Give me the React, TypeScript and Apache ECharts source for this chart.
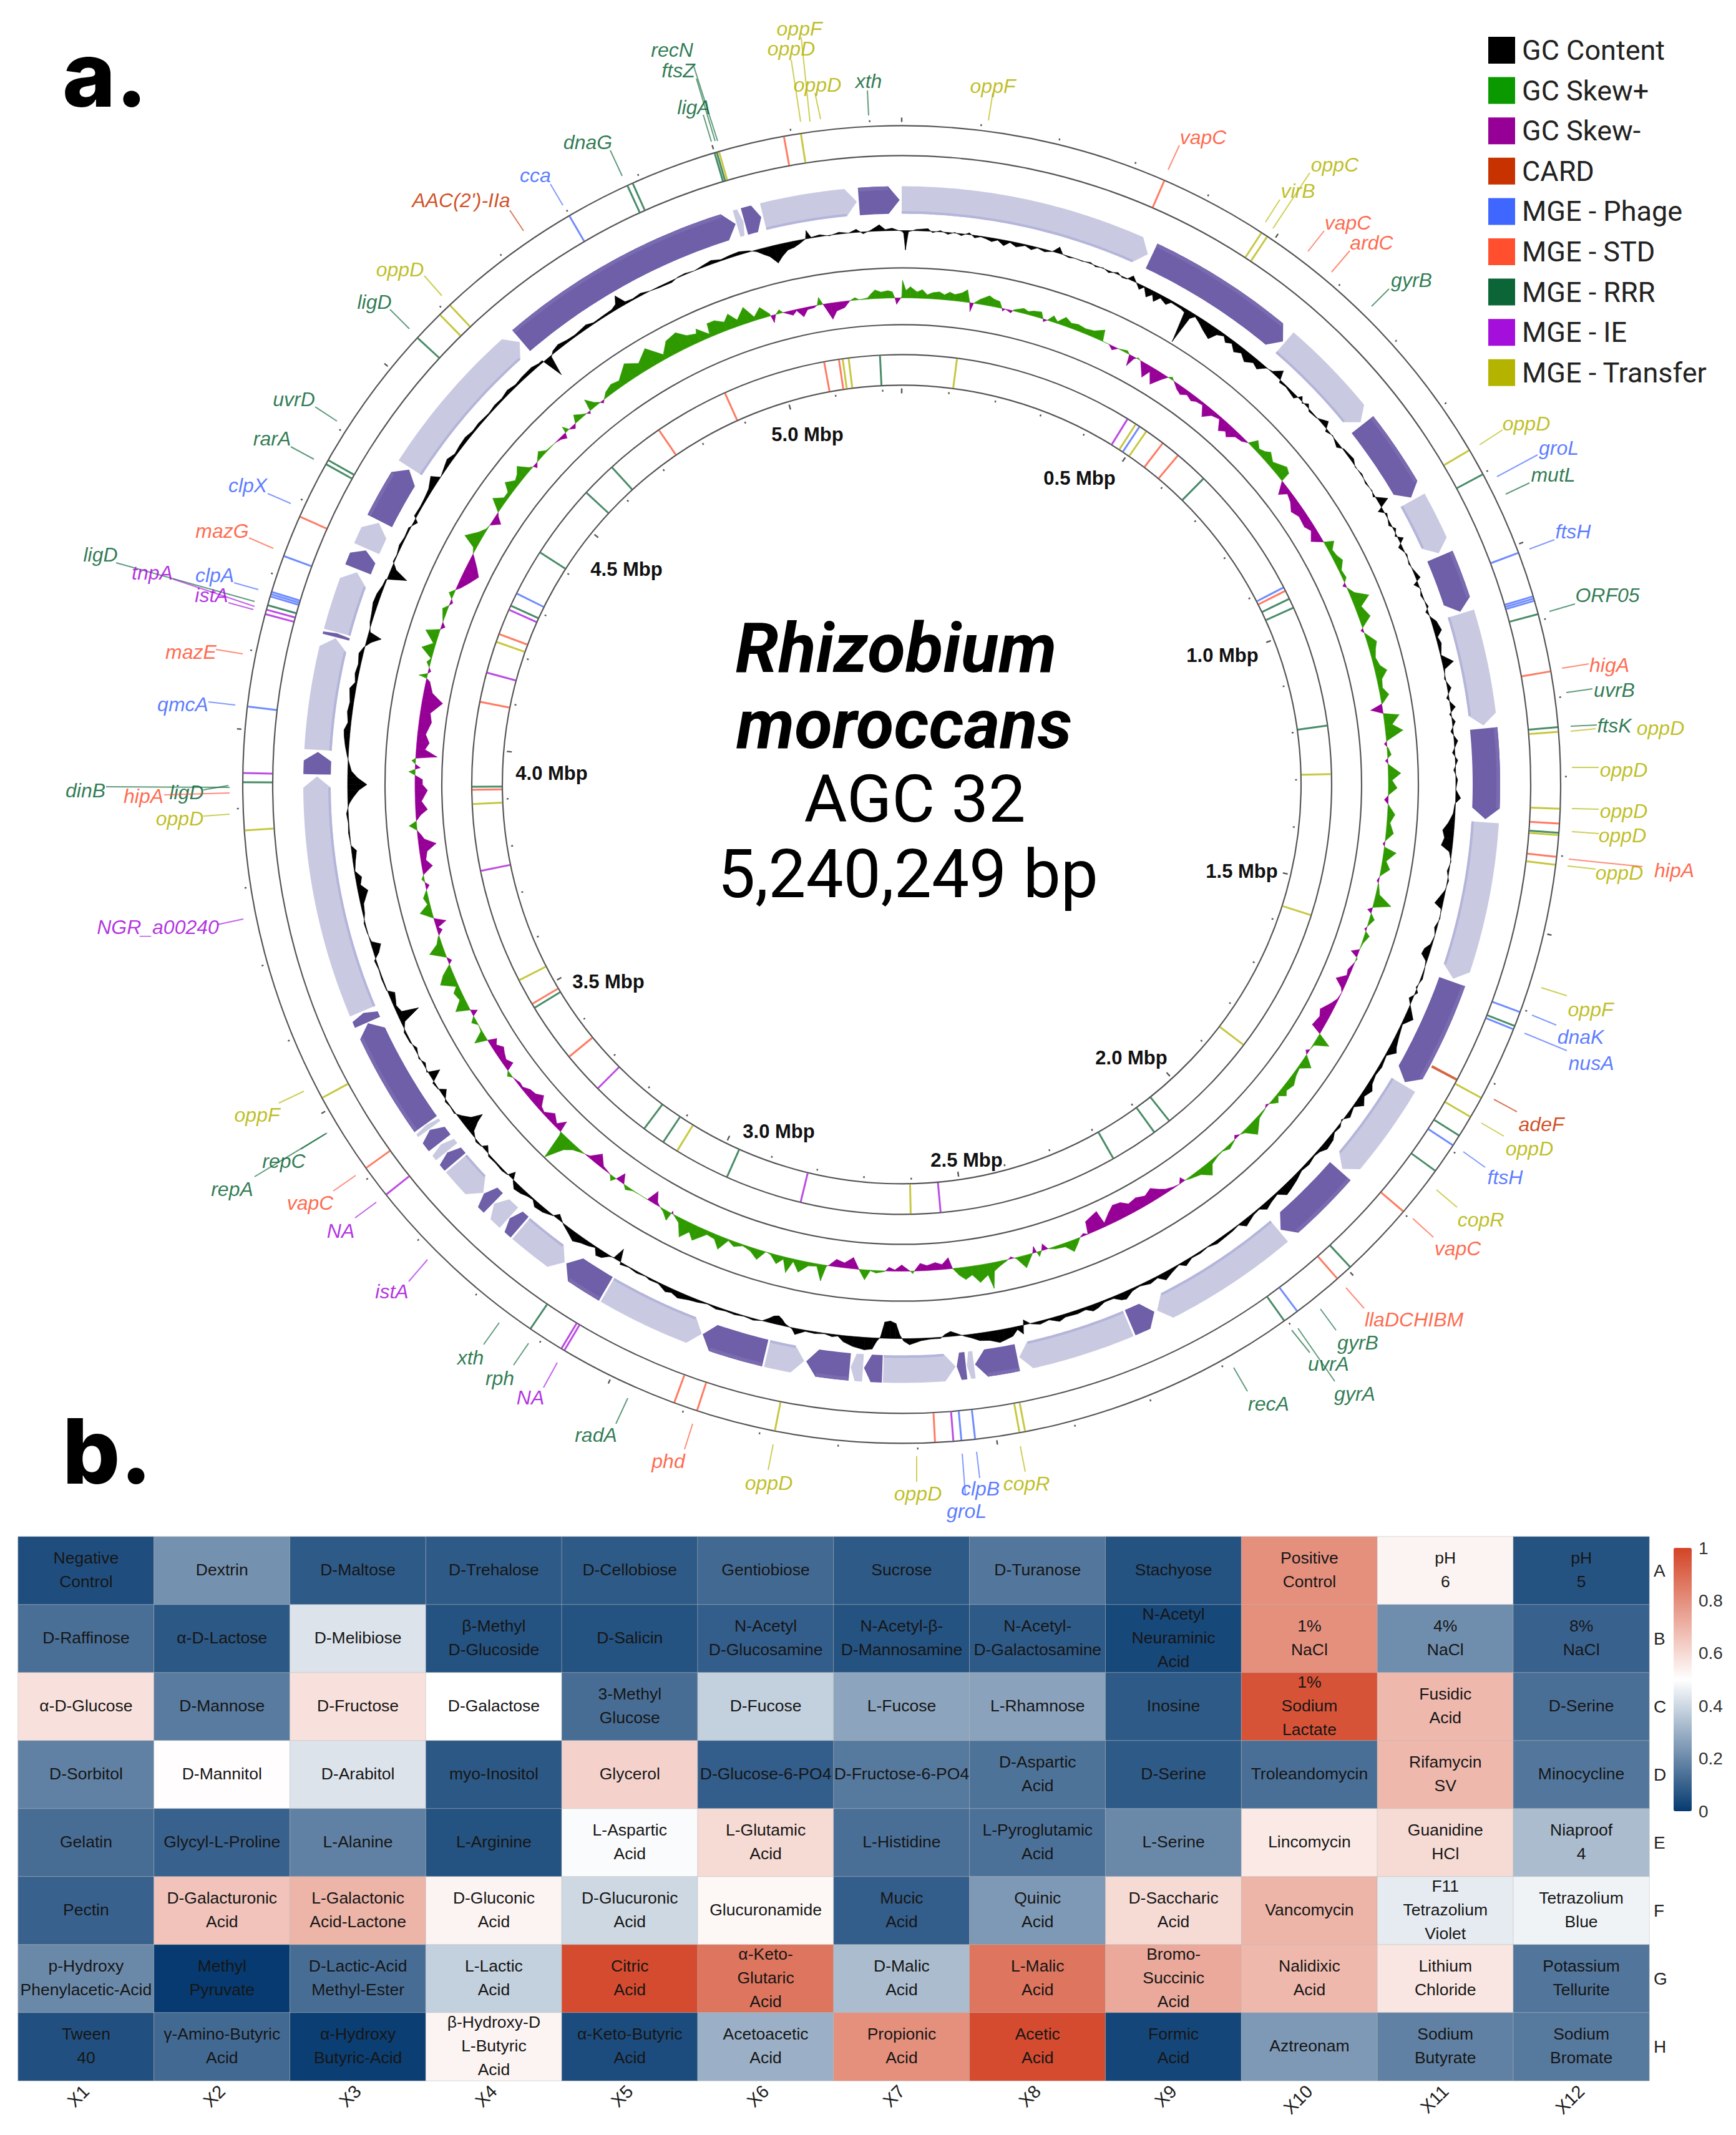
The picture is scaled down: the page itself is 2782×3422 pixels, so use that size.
import React, { useEffect, useRef } from "react";
import * as echarts from "echarts";

const GENOME_BP = 5240249;

/* ---------- heat map ---------- */
const plateColumns = ["X1","X2","X3","X4","X5","X6","X7","X8","X9","X10","X11","X12"];
const plateRows = ["A","B","C","D","E","F","G","H"];
const wellNames = [
  ["Negative\nControl","Dextrin","D-Maltose","D-Trehalose","D-Cellobiose","Gentiobiose","Sucrose","D-Turanose","Stachyose","Positive\nControl","pH\n6","pH\n5"],
  ["D-Raffinose","α-D-Lactose","D-Melibiose","β-Methyl\nD-Glucoside","D-Salicin","N-Acetyl\nD-Glucosamine","N-Acetyl-β-\nD-Mannosamine","N-Acetyl-\nD-Galactosamine","N-Acetyl\nNeuraminic\nAcid","1%\nNaCl","4%\nNaCl","8%\nNaCl"],
  ["α-D-Glucose","D-Mannose","D-Fructose","D-Galactose","3-Methyl\nGlucose","D-Fucose","L-Fucose","L-Rhamnose","Inosine","1%\nSodium\nLactate","Fusidic\nAcid","D-Serine"],
  ["D-Sorbitol","D-Mannitol","D-Arabitol","myo-Inositol","Glycerol","D-Glucose-6-PO4","D-Fructose-6-PO4","D-Aspartic\nAcid","D-Serine","Troleandomycin","Rifamycin\nSV","Minocycline"],
  ["Gelatin","Glycyl-L-Proline","L-Alanine","L-Arginine","L-Aspartic\nAcid","L-Glutamic\nAcid","L-Histidine","L-Pyroglutamic\nAcid","L-Serine","Lincomycin","Guanidine\nHCl","Niaproof\n4"],
  ["Pectin","D-Galacturonic\nAcid","L-Galactonic\nAcid-Lactone","D-Gluconic\nAcid","D-Glucuronic\nAcid","Glucuronamide","Mucic\nAcid","Quinic\nAcid","D-Saccharic\nAcid","Vancomycin","F11\nTetrazolium\nViolet","Tetrazolium\nBlue"],
  ["p-Hydroxy\nPhenylacetic-Acid","Methyl\nPyruvate","D-Lactic-Acid\nMethyl-Ester","L-Lactic\nAcid","Citric\nAcid","α-Keto-\nGlutaric\nAcid","D-Malic\nAcid","L-Malic\nAcid","Bromo-\nSuccinic\nAcid","Nalidixic\nAcid","Lithium\nChloride","Potassium\nTellurite"],
  ["Tween\n40","γ-Amino-Butyric\nAcid","α-Hydroxy\nButyric-Acid","β-Hydroxy-D\nL-Butyric\nAcid","α-Keto-Butyric\nAcid","Acetoacetic\nAcid","Propionic\nAcid","Acetic\nAcid","Formic\nAcid","Aztreonam","Sodium\nButyrate","Sodium\nBromate"],
];
const wellValues = [
  [0.05,0.22,0.08,0.08,0.08,0.12,0.08,0.155,0.06,0.8,0.53,0.06],
  [0.135,0.075,0.43,0.06,0.06,0.09,0.06,0.08,0.035,0.8,0.21,0.1],
  [0.58,0.165,0.58,0.5,0.13,0.38,0.27,0.265,0.08,0.96,0.69,0.135],
  [0.18,0.505,0.43,0.075,0.62,0.09,0.16,0.145,0.08,0.135,0.69,0.155],
  [0.13,0.1,0.18,0.06,0.49,0.6,0.135,0.14,0.2,0.56,0.6,0.33],
  [0.1,0.66,0.7,0.53,0.4,0.52,0.09,0.24,0.6,0.7,0.45,0.47],
  [0.2,0,0.13,0.38,0.98,0.87,0.33,0.87,0.73,0.69,0.57,0.15],
  [0.055,0.12,0.01,0.53,0.045,0.3,0.8,0.98,0.03,0.24,0.18,0.16],
];

/* ---------- genome map (positions in degrees clockwise from the origin) ---------- */
const kinds = [
  { name: "CARD", color: "#c83200" },
  { name: "MGE - Phage", color: "#3f66ff" },
  { name: "MGE - STD", color: "#ff4f2f" },
  { name: "MGE - RRR", color: "#0b6536" },
  { name: "MGE - IE", color: "#a50fdc" },
  { name: "MGE - Transfer", color: "#b4b400" },
];
const legendSwatches = [
  { name: "GC Content", color: "#000000" },
  { name: "GC Skew+", color: "#0a9a00" },
  { name: "GC Skew-", color: "#960096" },
  ...kinds,
];
const CARD = 0, PHG = 1, STD = 2, RRR = 3, IE = 4, TRF = 5;

const ringRadii = [1056, 1008, 828, 737, 689, 640];
const tickMbp = Array.from({ length: 53 }, (_, i) => i / 10);

const outerFeatures = [
  [23.5,STD],[33.1,TRF],[33.7,TRF],[59.5,TRF],[61.9,RRR],[69.4,PHG],[73.4,PHG],[73.6,PHG],[73.8,PHG],[75,RRR],[80.1,STD],
  [85,RRR],[85.4,TRF],[92.1,TRF],[93.4,STD],[94.2,RRR],[94.4,TRF],[96.3,STD],[97,TRF],[110.2,PHG],[111.5,RRR],
  [111.8,PHG],[118.4,TRF],[120.3,TRF],[122.2,RRR],[123.2,PHG],[125.9,RRR],[130.4,STD],[137.1,RRR],[138.6,STD],
  [143.1,PHG],[144.5,RRR],[169.2,TRF],[169.7,TRF],[173.6,PHG],[174.8,PHG],[175.5,IE],[177.1,STD],[191.1,TRF],
  [198.1,STD],[200.2,STD],[210.8,IE],[211.1,IE],[214.3,RRR],[231.5,IE],[234.4,STD],[241.6,TRF],[266,TRF],
  [270.2,RRR],[271,IE],[276.8,PHG],[285,IE],[285.4,IE],[285.8,RRR],[286.6,PHG],[286.8,PHG],[287,PHG],[290.3,PHG],[294,STD],
  [299.1,RRR],[299.5,RRR],[312.7,RRR],[315.5,TRF],[316.7,TRF],[329.7,PHG],[335.4,RRR],[335.9,RRR],[343.5,RRR],
  [343.7,RRR],[343.9,TRF],[349.7,STD],[351.2,TRF],
];
const cardFeatures = [[118,CARD]];
const innerFeatures = [
  [349.6,STD],[351.6,STD],[352.1,TRF],[352.9,TRF],[357.1,RRR],[7.4,TRF],[31.7,IE],[33,TRF],[33.6,PHG],[34.7,TRF],
  [37.4,STD],[40,STD],[44.6,RRR],[62.7,PHG],[63.2,STD],[64.4,RRR],[65.7,RRR],[82.1,RRR],[88.6,TRF],[107.7,TRF],
  [127.3,TRF],[141.5,RRR],[144,RRR],[150.5,RRR],[174.8,IE],[178.8,TRF],[193.6,IE],[204,RRR],[211.5,TRF],[213.7,RRR],
  [216.8,RRR],[225,IE],[230.7,STD],[238.7,RRR],[239.3,STD],[242.9,TRF],[258.4,IE],[267.4,TRF],[269.3,STD],[269.7,RRR],
  [281.1,STD],[285.1,IE],[289.4,TRF],[290.5,STD],[294,IE],[294.6,RRR],[296.4,PHG],[302.7,RRR],[312.8,RRR],[317.6,RRR],
  [325.6,STD],[335.7,STD],
];

/* start, end, shade (1 dark, 0 light), direction */
const genes = [
  [0,24.9,0,1],[25.3,40.7,1,1],[40.9,51.7,0,1],[52,60.6,1,1],[60.9,66.7,0,1],[67,72.8,1,1],[73,84.2,0,1],[84.5,93.4,1,1],
  [93.7,109.4,0,1],[109.7,120.6,1,1],[120.9,131.1,0,1],[131.4,139.6,1,1],[139.8,154.1,0,1],[154.4,157,1,-1],[157.2,168.4,0,1],
  [168.6,172.8,1,1],[172.9,173.6,0,1],[173.7,174.6,1,1],[174.7,181.8,0,-1],[181.9,183.7,1,1],[183.8,185,0,1],[185.1,189.4,1,1],
  [189.6,193.3,0,-1],[193.5,199.9,1,1],[200,210.2,0,-1],[210.4,215,1,1],[215.2,220.6,0,-1],[220.8,222.1,1,1],[222.2,224.2,0,1],
  [224.3,225.6,1,1],[225.7,229.6,0,-1],[229.8,231,1,1],[231.1,232,0,1],[232.2,233.8,1,1],[233.9,234.4,0,1],[234.5,245.9,1,1],
  [246,247,1,1],[247.2,270.8,0,1],[271,273.2,1,1],[273.4,284.5,0,1],[284.6,285,1,1],[285.1,291.3,0,1],[291.6,293.6,1,1],
  [293.8,296.6,0,1],[296.8,302.6,1,1],[302.8,319.2,0,1],[319.4,343.5,1,1],[343.6,344.3,0,1],[344.4,346.1,1,1],[346.3,355.6,0,1],
  [355.8,359.8,1,1],
];

/* degree, offset from the track's baseline (positive = outwards) */
const gcContent = [
  [0,-1],[0.2,-4],[0.4,-31],[0.7,-2],[1.5,2],[2.7,4],[3.2,-2],[4,2],[4.8,-3],[5.5,1],[6.2,-3],[7,3],[7.6,-4],[8.2,-1],[8.8,-3],[9.4,-6],[10,-2],[10.7,-9],[11.3,-2],[12,-7],[12.9,-2],[13.6,-6],[14.2,-1],[15,-4],[15.8,0],[16.4,10],[16.9,0],[17.6,-2],[18.2,0],[19,-1],[19.9,2],[20.5,-2],[21.3,1],[22,-3],[22.9,3],[23.5,-2],[24,-1],[24.5,8],[25.2,-2],[25.6,-8],[26,-1],[26.6,-14],[27.1,-6],[27.5,-15],[28,-5],[28.8,-10],[29.2,-3],[30.4,-4],[30.9,-6],[31.4,-56],[31.7,-10],[32.1,-3],[32.8,-8],[33.5,-14],[34.5,-21],[35,-8],[35.7,-3],[36.2,-10],[36.8,-5],[37.5,-14],[38.2,-8],[39,-16],[39.8,-8],[40.5,-12],[41.2,-1],[41.9,2],[42.7,14],[43.2,-4],[44,-2],[45.4,-6],[45.9,6],[46.4,-2],[46.9,5],[47.5,-3],[48.5,-1],[49.6,10],[50.2,-4],[51,1],[52.2,-6],[52.8,2],[54.2,5],[55,-1],[56,2],[57,-2],[58,1],[58.6,-3],[59.5,16],[60.2,-8],[60.8,3],[62,-4],[62.6,4],[63.3,-3],[63.8,8],[64.5,-6],[65.5,2],[66.5,-2],[67.5,3],[68.2,7],[68.7,-7],[69.3,1],[70,-3],[71.3,3],[71.8,-4],[72.5,2],[73,8],[74,12],[74.6,3],[75.3,6],[76.5,1],[77.4,18],[78,2],[79,-2],[80,6],[81,-4],[82,8],[82.7,-3],[83.5,5],[84.5,-4],[85.5,6],[86.7,-4],[87.5,4],[88.5,-3],[89.5,3],[90.5,0],[91.4,8],[92,-1],[93,-3],[94,-10],[94.8,-18],[95.6,-14],[96.4,-18],[97,-4],[98,1],[99,-3],[100,2],[101,-1],[102.5,-13],[103,-1],[104,1],[105,-4],[105.8,0],[106.8,-3],[107.4,-10],[108,-12],[108.6,-2],[109.5,1],[110.5,3],[111.5,-2],[112,4],[112.8,-6],[113.6,2],[114.7,14],[115.6,2],[117,6],[118,10],[118.5,14],[119.2,2],[120.5,5],[121.5,3],[122.5,6],[123.1,12],[124,6],[124.8,14],[125.5,2],[126.6,7],[127.3,-2],[128,4],[128.8,2],[129.5,8],[130.6,10],[131.3,4],[132,2],[133,5],[134,3],[135,8],[136.1,12],[136.8,14],[137.5,3],[138.5,6],[139.3,10],[139.9,2],[140.7,3],[142,10],[142.6,1],[143.5,3],[145.5,5],[146.5,1],[147.5,3],[148.5,2],[149.4,8],[150,1],[151,6],[151.9,12],[152.6,3],[153.5,6],[154.6,2],[155.5,4],[156.4,12],[156.9,10],[157.6,3],[158.6,3],[159.4,8],[160,10],[160.7,4],[161.6,6],[162.9,5],[163.6,9],[164.6,2],[165.6,5],[166.5,1],[167.2,-8],[167.5,14],[168,5],[168.6,14],[169.5,18],[170,20],[171,14],[172,12],[172.8,6],[173.5,2],[174.3,-4],[174.9,-8],[175.5,-4],[176,2],[177,2],[178,4],[179.2,10],[179.8,4],[180.2,-6],[180.6,-24],[181.2,-28],[181.8,-26],[182.2,-2],[182.6,6],[183,18],[183.8,20],[185,16],[186,10],[186.6,2],[187.2,4],[188,1],[189,3],[190,2],[191,10],[191.4,2],[192.2,-4],[192.6,-10],[193,-14],[193.5,-12],[194,-6],[194.6,0],[195.5,3],[196.5,1],[197.5,3],[198.5,2],[199.5,4],[200.5,1],[201.5,4],[202.5,6],[203.6,10],[204.4,6],[205,9],[206,2],[207,3],[207.5,1],[208.5,3],[209.5,1],[210.4,4],[210.9,-20],[211.3,-1],[211.8,2],[212.4,10],[213,12],[213.5,2],[214.2,6],[215,9],[215.8,14],[216.6,8],[217.5,2],[218.5,-8],[219,1],[220,7],[221,9],[221.6,2],[222.3,4],[223,8],[223.8,10],[224.4,2],[224.9,-11],[225.3,1],[226,3],[227,2],[228,3],[228.9,-8],[229.3,1],[230,3],[231,-6],[231.5,-20],[231.8,-33],[232.3,-16],[233,-6],[233.7,2],[234.5,1],[235.2,3],[236.2,-10],[236.7,1],[237.5,3],[238.3,-18],[238.8,2],[239.7,-4],[240.4,2],[241.5,-4],[242.3,2],[243.5,3],[244.5,-6],[245.2,-35],[245.6,-8],[246.4,-4],[247,-7],[247.7,-10],[248.2,1],[249.5,2],[250.5,1],[251.5,3],[252.2,-8],[253,-15],[253.5,-2],[254.5,1],[255.5,2],[256.5,-3],[257.5,-5],[258.8,-16],[259.5,-6],[260.3,-10],[261,-1],[262,-4],[263.1,-8],[263.7,0],[265,2],[266,1],[267,3],[268,-2],[268.6,-8],[269.4,-18],[270,-31],[270.7,-16],[271.4,-6],[272,-3],[273,2],[274,6],[275,9],[275.6,10],[276.4,5],[277.5,8],[278.5,6],[279.9,10],[280.6,3],[281.5,6],[282.5,4],[283.6,7],[284.3,2],[285,-8],[285.6,-22],[286,-2],[287,3],[288,5],[289,8],[290,7],[291,3],[291.7,2],[292.4,-30],[293,-8],[293.7,2],[294.5,1],[295.5,4],[296.5,2],[297.5,3],[298.4,-6],[298.9,4],[300,3],[301,4],[302,6],[303.2,14],[303.7,0],[304.9,5],[305.6,8],[306.5,3],[307.5,5],[308.5,6],[309.5,3],[310.5,4],[312,2],[313,4],[314,3],[315,6],[316,3],[317,5],[318.4,6],[319.2,3],[319.7,3],[320.3,-34],[320.7,-2],[321.2,4],[322,7],[323,4],[324,3],[325.5,6],[326.3,2],[327.5,3],[328.6,4],[329.2,8],[329.6,20],[330.2,4],[331,2],[332,4],[333,0],[334,-2],[335.4,-3],[336.2,1],[337,2],[338,0],[339,3],[340,6],[341,2],[342,4],[343,5],[344,2],[344.8,-3],[345.4,-10],[346,-16],[346.7,-29],[347.3,-20],[348,-12],[348.7,-10],[349.3,-6],[350,0],[350.2,13],[350.6,1],[351.5,3],[352.5,-1],[353.5,3],[354.5,0],[355.3,5],[356,-3],[356.8,2],[357.7,10],[358.3,2],[359,4],[359.7,0],[360,-1],
];
const gcSkew = [
  [0,2],[0.1,28],[0.5,12],[1,18],[1.8,10],[2.4,14],[3,6],[3.6,10],[4.4,12],[5,8],[5.6,13],[6.2,10],[7,14],[7.6,20],[8,2],[8.2,-14],[8.5,0],[9.2,8],[10.2,16],[10.8,12],[11.5,10],[11.9,0],[12,-4],[12.3,0],[13,-4],[13.3,2],[14.4,8],[15,5],[15.6,8],[16.5,10],[16.9,0],[17,-4],[17.4,0],[18,10],[18.6,3],[19.4,14],[20.2,8],[21,10],[22,8],[23,10],[24.1,18],[24.4,0],[25.2,0],[25.8,-6],[26.4,0],[27.5,4],[27.9,0],[28.2,-18],[28.6,-3],[29,2],[29.4,0],[30.5,-22],[31,-8],[31.8,-25],[32.6,-10],[33.2,0],[33.6,4],[34,0],[34.8,-8],[35.5,-12],[36.2,-6],[37,-10],[37.5,-6],[38.4,-4],[39.2,-19],[40,-8],[41,-4],[41.8,-19],[42.5,-12],[43,-18],[43.8,-8],[44.7,-6],[45.4,0],[46,14],[46.8,6],[47.5,10],[48,16],[49,8],[50.5,20],[51.2,16],[51.4,0],[52.4,-18],[53,-6],[54,-10],[55,-18],[56,-12],[57.4,-14],[58.2,-8],[59.3,-17],[60.1,0],[60.6,15],[61.4,6],[62.2,8],[63,13],[64,4],[65,6],[65.5,0],[65.8,-5],[66.1,0],[67,8],[67.9,28],[68.8,10],[70.2,18],[71,4],[71.5,-4],[72,2],[73.2,15],[74,10],[75,6],[76,10],[76.7,19],[77.6,8],[78.6,6],[79.5,14],[80.4,2],[81,-19],[81.6,0],[82,25],[83,12],[83.8,28],[84.8,2],[85.2,-4],[85.7,2],[86.5,6],[87.2,-4],[87.7,2],[88.7,20],[89.5,6],[90.4,14],[91.2,1],[91.8,-6],[92.4,1],[93.5,12],[94.5,5],[95.7,12],[96.6,1],[97,-3],[97.4,1],[97.9,20],[99,6],[99.9,14],[100.8,1],[101.4,-3],[101.8,1],[103,6],[104,28],[104.6,1],[105,-7],[105.4,1],[106,8],[107,0],[107.3,-3],[107.6,1],[108,8],[109,2],[109.8,0],[110.3,-12],[110.8,0],[111,2],[111.4,0],[112.5,-6],[113.2,-4],[114,-18],[114.8,-4],[115.3,0],[116.2,-2],[117,-8],[118.2,-19],[119,-14],[120.3,-18],[120.8,0],[121.5,23],[122.3,2],[123,0],[123.3,-5],[123.7,0],[124.7,18],[125.5,3],[126.5,6],[127.5,12],[128.5,8],[129,13],[129.6,3],[130.2,10],[131,0],[131.3,-3],[131.8,1],[133,4],[134.5,20],[135.4,4],[136,0],[136.5,-5],[136.9,1],[138,6],[138.8,1],[139.6,2],[140.7,6],[141.5,20],[142.5,8],[143.8,3],[144.4,0],[144.7,-8],[145.2,0],[146,-2],[146.9,-6],[147.6,-12],[148.4,-20],[149.4,-14],[150.5,-19],[151.6,-16],[152.4,-24],[153.4,-26],[154.2,-18],[155.2,-6],[155.5,-28],[156.4,-24],[157.2,-20],[157.5,0],[158,-4],[158.5,0],[159,8],[159.7,18],[160.5,6],[161.7,4],[162.5,0],[163,-10],[163.3,0],[163.7,8],[163.9,0],[164.1,-10],[164.4,0],[165.5,20],[166.4,2],[167,-3],[167.6,2],[168.5,8],[169.2,14],[169.6,41],[170,18],[171,28],[171.8,14],[172.6,20],[173.3,12],[173.7,5],[174,0],[174.4,-18],[175.2,-8],[176,-12],[177,-8],[177.8,-12],[178.4,-2],[178.7,4],[179,0],[180,-10],[180.8,-2],[181.5,-6],[182,1],[183,4],[183.7,1],[184.3,16],[185,1],[185.2,-4],[185.8,-18],[186.8,-8],[187.8,-12],[188.6,-1],[188.9,2],[189.3,26],[190,4],[191,6],[192,19],[192.8,4],[193.4,24],[194,4],[194.7,14],[195.6,2],[196.2,0],[197,16],[198,6],[199,2],[200,8],[200.8,2],[201.6,21],[202.4,8],[203.4,6],[204.7,24],[205.4,14],[206.2,28],[207,8],[208,0],[208.2,-4],[208.4,14],[209.2,4],[209.8,0],[210.3,-5],[210.9,-20],[211.5,0],[212.5,0],[213.5,1],[214.3,6],[214.8,0],[215.4,-15],[215.9,0],[216.3,8],[216.8,0],[218,-4],[219,-18],[220,-3],[220.6,0],[221,2],[222,8],[222.8,18],[223.8,47],[224.3,5],[224.5,0],[224.8,-18],[225.5,-5],[226.5,-14],[227.5,-3],[228.2,-6],[229,-20],[229.8,-12],[230.6,-10],[231.4,-3],[232,-4],[233,0],[233.5,6],[234,0],[234.4,-14],[235.2,-8],[236,-12],[236.6,-16],[237.3,-8],[237.9,-14],[238.3,0],[238.8,20],[239.6,2],[240.4,0],[241,8],[241.6,0],[242,-10],[242.4,0],[243,22],[244,8],[245,12],[245.6,4],[246.5,26],[247.4,16],[248.2,2],[248.7,-6],[249.2,0],[250.2,24],[251,8],[251.8,2],[252.5,-8],[252.9,-3],[253.4,-18],[254,-1],[255,19],[255.8,4],[256.6,8],[257.4,1],[258,-6],[258.4,0],[258.8,4],[259.3,0],[260.2,-17],[261,-8],[262,-12],[262.8,-28],[263.5,-10],[264,-6],[264.6,0],[265.2,12],[265.7,0],[266.4,-8],[267,-19],[268,-10],[269.3,-20],[270,-12],[270.6,-12],[271.1,0],[271.5,10],[271.8,0],[272,-8],[272.4,0],[272.8,6],[273.1,0],[273.4,-34],[274.2,-14],[275,-20],[276,-13],[277.5,-20],[278.6,-16],[280,-33],[281,-14],[282.3,-6],[282.6,0],[282.8,13],[283.2,0],[283.5,-4],[283.9,0],[284.5,6],[285,1],[286,20],[286.8,4],[288,22],[288.6,0],[289,-6],[289.5,0],[291,8],[291.6,0],[292,-4],[292.4,0],[293,8],[293.6,0],[294,-6],[295,-16],[296.1,-25],[297,-16],[298,-4],[298.3,0],[299,5],[299.7,26],[300.8,10],[301.6,2],[302.2,0],[303,-14],[303.6,-4],[304,0],[305,20],[305.8,6],[306.6,6],[307.3,19],[308.2,8],[308.9,12],[309.6,20],[310.4,4],[310.8,0],[311,-6],[311.5,0],[312.5,10],[313.2,2],[314.6,0],[315.4,-3],[316,-8],[316.3,0],[316.5,10],[316.9,0],[317.5,-6],[317.9,0],[318.4,12],[319.2,4],[319.7,0],[320,-4],[320.2,0],[320.5,19],[321.2,6],[321.6,2],[322,-4],[322.4,1],[323,8],[324,13],[325,10],[326.6,28],[328,16],[329.5,31],[331,8],[332,25],[333.4,30],[334.4,18],[335.5,14],[335.7,21],[336.9,5],[337.1,22],[338,22],[339,14],[339.7,24],[340.5,10],[341.6,26],[342.5,6],[343.4,18],[344.3,4],[344.4,0],[344.6,-12],[345,0],[345.5,6],[345.9,0],[347,-8],[347.5,-2],[348.2,-14],[348.8,-4],[349.6,-3],[350,0],[350.3,12],[350.7,0],[351.6,-26],[352.2,-14],[353.2,-10],[353.9,0],[354.5,4],[355,0],[356,2],[356.4,8],[356.9,14],[357.6,10],[358.4,12],[358.9,10],[359.2,0],[359.4,-10],[359.8,-2],[360,2],
];

/* gene name, class, leader from (x,y) to (x,y), label centre (x,y): read on the page */
const geneLabels = [
  ["recN",RRR,1150,226,1112,107,1077,80],["ftsZ",RRR,1146,226,1116,126,1087,113],["ligA",RRR,1140,227,1127,184,1112,172],
  ["dnaG",RRR,997,282,978,241,942,228],["cca",PHG,902,329,882,295,858,281],["AAC(2')-IIa",CARD,839,370,817,337,739,321],
  ["oppD",TRF,708,474,680,442,641,432],["ligD",RRR,656,527,625,496,600,484],["uvrD",RRR,540,675,505,652,471,640],
  ["rarA",RRR,503,736,466,716,436,703],["clpX",PHG,466,807,429,791,397,778],["mazG",STD,438,879,399,862,356,851],
  ["clpA",PHG,414,945,375,934,344,922],["ligD",RRR,408,964,186,902,161,889],["tnpA",IE,408,972,277,928,244,918],
  ["istA",IE,406,977,366,966,339,954],["mazE",STD,389,1048,346,1041,306,1045],["qmcA",PHG,377,1130,334,1125,293,1129],
  ["dinB",RRR,368,1262,170,1261,137,1267],["ligD",RRR,366,1259,326,1266,299,1270],["hipA",STD,368,1271,263,1274,230,1276],
  ["oppD",TRF,368,1305,326,1308,288,1312],["NGR_a00240",IE,390,1473,348,1482,253,1486],["oppF",TRF,487,1749,447,1768,412,1787],
  ["repC",RRR,524,1816,482,1842,455,1861],["repA",RRR,522,1817,408,1886,372,1906],["vapC",STD,570,1884,534,1909,497,1928],
  ["NA",IE,603,1927,569,1952,546,1973],["istA",IE,685,2019,655,2054,628,2070],["xth",RRR,800,2120,775,2155,754,2176],
  ["rph",RRR,847,2153,823,2188,801,2209],["NA",IE,893,2184,871,2224,850,2240],["radA",RRR,1006,2241,987,2282,955,2300],
  ["phd",STD,1110,2282,1097,2323,1071,2342],["oppD",TRF,1239,2315,1231,2356,1232,2377],["oppD",TRF,1469,2334,1469,2375,1471,2394],
  ["groL",PHG,1542,2330,1547,2395,1549,2422],["clpB",PHG,1565,2327,1570,2369,1571,2386],["copR",TRF,1635,2318,1643,2359,1645,2378],
  ["recA",RRR,1977,2192,1999,2230,2033,2250],["gyrA",RRR,2080,2129,2139,2214,2171,2234],["uvrA",RRR,2070,2132,2099,2168,2129,2186],
  ["gyrB",RRR,2116,2098,2141,2132,2176,2152],["llaDCHIBM",STD,2157,2064,2186,2097,2266,2115],["vapC",STD,2264,1953,2297,1983,2336,2001],
  ["copR",TRF,2302,1907,2335,1935,2373,1955],["ftsH",PHG,2345,1846,2380,1871,2412,1887],["oppD",TRF,2374,1800,2410,1821,2451,1841],
  ["adeF",CARD,2394,1762,2431,1782,2470,1802],["nusA",PHG,2443,1656,2511,1684,2550,1704],["dnaK",PHG,2455,1627,2494,1643,2533,1662],
  ["oppF",TRF,2470,1583,2511,1596,2549,1618],["oppD",TRF,2512,1388,2557,1393,2595,1399],["hipA",STD,2514,1377,2632,1389,2683,1395],
  ["oppD",TRF,2519,1333,2562,1336,2600,1339],["oppD",TRF,2519,1296,2562,1297,2602,1300],["oppD",TRF,2519,1230,2562,1230,2602,1234],
  ["oppD",TRF,2517,1172,2557,1168,2661,1167],["ftsK",RRR,2517,1164,2559,1162,2587,1163],["uvrB",RRR,2510,1110,2552,1104,2587,1106],
  ["higA",STD,2503,1071,2546,1064,2579,1066],["ORF05",RRR,2483,980,2524,968,2576,954],["ftsH",PHG,2451,880,2491,865,2521,852],
  ["mutL",RRR,2413,792,2451,774,2489,761],["groL",PHG,2399,764,2464,729,2498,718],["oppD",TRF,2371,713,2408,689,2446,679],
  ["gyrB",RRR,2198,491,2226,463,2262,449],["ardC",STD,2134,436,2163,402,2198,389],["vapC",STD,2096,403,2122,370,2160,357],
  ["oppC",TRF,2040,366,2099,277,2139,264],["virB",TRF,2028,356,2051,320,2080,306],["vapC",STD,1872,272,1890,233,1928,220],
  ["oppF",TRF,1584,193,1591,149,1591,138],["xth",RRR,1392,185,1390,145,1392,130],["oppD",TRF,1315,191,1306,149,1310,136],
  ["oppF",TRF,1298,195,1284,60,1281,46],["oppD",TRF,1283,195,1268,96,1268,78],
];

/* text, x, y on the page */
const positionLabels = [
  ["5.0 Mbp",1294,696],["0.5 Mbp",1730,766],["4.5 Mbp",1004,912],["1.0 Mbp",1959,1050],["4.0 Mbp",884,1239],
  ["1.5 Mbp",1990,1396],["3.5 Mbp",975,1573],["2.0 Mbp",1813,1695],["3.0 Mbp",1248,1813],["2.5 Mbp",1549,1859],
];
const pageTexts = [
  { text: "a.", x: 100, y: 191, size: 145, weight: 800, family: "Inter", style: "normal", align: "left", baseline: "alphabetic" },
  { text: "b.", x: 100, y: 2398, size: 145, weight: 800, family: "Inter", style: "normal", align: "left", baseline: "alphabetic" },
  { text: "Rhizobium", x: 1436, y: 1039, size: 111, weight: 700, family: "Roboto", style: "italic", align: "center", baseline: "middle" },
  { text: "moroccans", x: 1449, y: 1161, size: 111, weight: 700, family: "Roboto", style: "italic", align: "center", baseline: "middle" },
  { text: "AGC 32", x: 1466, y: 1281, size: 106, weight: 400, family: "Roboto", style: "normal", align: "center", baseline: "middle" },
  { text: "5,240,249 bp", x: 1455, y: 1401, size: 107, weight: 400, family: "Roboto", style: "normal", align: "center", baseline: "middle" },
];

const TRACK_GC = 888, TRACK_SKEW = 780;
const GENE_IN = 915, GENE_OUT = 959;

function segments(points: number[][]) {
  return points.slice(1).map((p, i) => [points[i][0], points[i][1], p[0], p[1]]);
}

function App() {
  const ref = useRef<HTMLDivElement>(null);
  useEffect(() => {
    const chart = echarts.init(ref.current!, undefined, { renderer: "svg" });

    const trackRender = (base: number, pos: string, neg: string) => (_: any, api: any) => {
      const a = api.value(0), u = api.value(1), b = api.value(2), v = api.value(3);
      const P = (r: number, d: number) => api.coord([r, d]);
      const quad = (a0: number, o0: number, a1: number, o1: number) => ({
        type: "polygon",
        shape: { points: [P(base, a0), P(base + o0, a0), P(base + o1, a1), P(base, a1)] },
        style: { fill: o0 + o1 >= 0 ? pos : neg, stroke: o0 + o1 >= 0 ? pos : neg, lineWidth: 0.6 },
      });
      if (u * v < 0) {
        const m = a + ((b - a) * u) / (u - v);
        return { type: "group", children: [quad(a, u, m, 0), quad(m, 0, b, v)] };
      }
      return quad(a, u, b, v);
    };

    const featureRender = (list: number[][], r0: number, r1: number, w: number) => (p: any, api: any) => {
      const [deg, kind] = list[p.dataIndex];
      const s = api.coord([r0, deg]), e = api.coord([r1, deg]);
      return {
        type: "line",
        shape: { x1: s[0], y1: s[1], x2: e[0], y2: e[1] },
        style: { stroke: kinds[kind].color, lineWidth: w, opacity: 0.75 },
      };
    };
    const polarRows = (list: any[]) => list.map((_, i) => [i, i]);

    const geneRender = (p: any, api: any) => {
      const [a0, a1, dark, dir] = genes[p.dataIndex];
      const h = Math.min(1.1, (a1 - a0) * 0.4);
      const bodyStart = dir < 0 ? a0 + h : a0;
      const bodyEnd = dir > 0 ? a1 - h : a1;
      const arc = (r: number, s: number, e: number) => {
        const n = Math.max(1, Math.ceil(Math.abs(e - s) / 0.5));
        return Array.from({ length: n + 1 }, (_, i) => api.coord([r, s + ((e - s) * i) / n]));
      };
      const mid = (GENE_IN + GENE_OUT) / 2;
      const pts = [
        ...(dir < 0 ? [api.coord([mid, a0])] : []),
        ...arc(GENE_OUT, bodyStart, bodyEnd),
        ...(dir > 0 ? [api.coord([mid, a1])] : []),
        ...arc(GENE_IN, bodyEnd, bodyStart),
      ];
      const children: any[] = [
        { type: "polygon", shape: { points: pts }, style: { fill: dark ? "#6f5ea8" : "#c9cae2" } },
      ];
      if (a1 - a0 > 3) {
        const r0 = dark ? GENE_OUT - 6 : GENE_IN;
        const r1 = dark ? GENE_OUT : GENE_IN + 4;
        children.push({
          type: "polygon",
          shape: { points: [...arc(r1, bodyStart, bodyEnd), ...arc(r0, bodyEnd, bodyStart)] },
          style: { fill: dark ? "#7a6bb0" : "#b5b5da" },
        });
      }
      return { type: "group", children };
    };

    const polarBase = { coordinateSystem: "polar", silent: true, clip: false };
    const pageBase = { coordinateSystem: "cartesian2d", xAxisIndex: 2, yAxisIndex: 2, silent: true, clip: false };

    const option: any = {
      animation: false,
      backgroundColor: "#ffffff",
      textStyle: { fontFamily: "Liberation Sans" },
      legend: {
        orient: "vertical",
        left: 2385,
        top: 58,
        padding: 0,
        itemWidth: 43,
        itemHeight: 43,
        itemGap: 19.6,
        selectedMode: false,
        icon: "rect",
        textStyle: { fontFamily: "Roboto", fontSize: 45, color: "#222222", padding: [0, 0, 0, 6] },
        data: legendSwatches.map((k) => ({ name: k.name, itemStyle: { color: k.color, opacity: 1 } })),
      },
      polar: { center: [1445, 1257.5], radius: [0, 1056] },
      angleAxis: { type: "value", min: 0, max: 360, startAngle: 90, clockwise: true, show: false },
      radiusAxis: { type: "value", min: 0, max: 1056, show: false },
      grid: [
        { left: 29, top: 2463, width: 2614, height: 872 },
        { left: 2682, top: 2481, width: 29, height: 422 },
        { left: 0, top: 0, width: 2782, height: 3422 },
      ],
      xAxis: [
        {
          type: "category",
          data: plateColumns,
          axisLine: { show: false },
          axisTick: { show: false },
          splitLine: { show: false },
          axisLabel: { rotate: 45, margin: 12, fontSize: 29, color: "#1c1c1c", interval: 0 },
        },
        { type: "value", gridIndex: 1, show: false },
        { type: "value", gridIndex: 2, min: 0, max: 2782, show: false },
      ],
      yAxis: [
        {
          type: "category",
          data: plateRows,
          inverse: true,
          position: "right",
          axisLine: { show: false },
          axisTick: { show: false },
          splitLine: { show: false },
          axisLabel: { margin: 7, fontSize: 28, color: "#222222", interval: 0 },
        },
        {
          type: "value",
          gridIndex: 1,
          min: 0,
          max: 1,
          interval: 0.2,
          position: "right",
          axisLine: { show: false },
          axisTick: { show: false },
          splitLine: { show: false },
          axisLabel: { margin: 11, fontSize: 28, color: "#333333" },
        },
        { type: "value", gridIndex: 2, min: 0, max: 3422, inverse: true, show: false },
      ],
      visualMap: {
        type: "continuous",
        min: 0,
        max: 1,
        seriesIndex: 0,
        dimension: 2,
        orient: "vertical",
        left: 2682,
        top: 2481,
        itemWidth: 29,
        itemHeight: 422,
        padding: 0,
        calculable: false,
        hoverLink: false,
        text: null,
        inRange: { color: ["#063a70", "#ffffff", "#d34426"] },
      },
      series: [
        {
          type: "heatmap",
          name: "Biolog",
          xAxisIndex: 0,
          yAxisIndex: 0,
          silent: true,
          data: wellValues.flatMap((row, y) => row.map((v, x) => [x, y, v])),
          itemStyle: { borderColor: "rgba(190,190,190,0.55)", borderWidth: 1 },
          label: {
            show: true,
            fontFamily: "Liberation Sans",
            fontSize: 26.5,
            lineHeight: 38,
            color: "#161616",
            offset: [0, -2],
            formatter: (p: any) => wellNames[p.value[1]][p.value[0]],
          },
        },
        ...legendSwatches.map((k) => ({
          type: "scatter",
          name: k.name,
          xAxisIndex: 2,
          yAxisIndex: 2,
          data: [],
          itemStyle: { color: k.color, opacity: 1 },
        })),
        {
          ...polarBase,
          type: "custom",
          name: "rings",
          data: ringRadii.map((r) => [r, 0]),
          renderItem: (_: any, api: any) => {
            const c = api.coord([0, 0]);
            return {
              type: "circle",
              shape: { cx: c[0], cy: c[1], r: api.value(0) },
              style: { fill: "none", stroke: "#555555", lineWidth: 2.2 },
            };
          },
        },
        {
          ...polarBase,
          type: "custom",
          name: "ticks",
          data: tickMbp.map((m) => [m, (m * 1e6 * 360) / GENOME_BP]),
          renderItem: (_: any, api: any) => {
            const major = Math.abs(api.value(0) * 2 - Math.round(api.value(0) * 2)) < 1e-6;
            const d = api.value(1);
            const seg = (r0: number, r1: number) => {
              const s = api.coord([r0, d]), e = api.coord([r1, d]);
              return {
                type: "line",
                shape: { x1: s[0], y1: s[1], x2: e[0], y2: e[1] },
                style: { stroke: "#555555", lineWidth: 2.4 },
              };
            };
            return {
              type: "group",
              children: major ? [seg(1062, 1069), seg(627, 635)] : [seg(1063, 1066), seg(630.5, 633.5)],
            };
          },
        },
        { ...polarBase, type: "custom", name: "outer features", data: polarRows(outerFeatures), renderItem: featureRender(outerFeatures, 1009, 1055, 3) },
        { ...polarBase, type: "custom", name: "card features", data: polarRows(cardFeatures), renderItem: featureRender(cardFeatures, 962, 1007, 4) },
        { ...polarBase, type: "custom", name: "inner features", data: polarRows(innerFeatures), renderItem: featureRender(innerFeatures, 641, 688, 3) },
        { ...polarBase, type: "custom", name: "genes", data: polarRows(genes), renderItem: geneRender },
        { ...polarBase, type: "custom", name: "gc content", data: segments(gcContent), renderItem: trackRender(TRACK_GC, "#000000", "#000000") },
        { ...polarBase, type: "custom", name: "gc skew", data: segments(gcSkew), renderItem: trackRender(TRACK_SKEW, "#2f9a00", "#960096") },
        {
          ...pageBase,
          type: "custom",
          name: "gene labels",
          data: geneLabels.map((g) => [g[2], g[3]]),
          renderItem: (p: any, api: any) => {
            const g: any = geneLabels[p.dataIndex];
            const s = api.coord([g[2], g[3]]), e = api.coord([g[4], g[5]]), t = api.coord([g[6], g[7]]);
            const c = kinds[g[1]].color;
            return {
              type: "group",
              children: [
                { type: "line", shape: { x1: s[0], y1: s[1], x2: e[0], y2: e[1] }, style: { stroke: c, lineWidth: 2, opacity: 0.65 } },
                {
                  type: "text",
                  x: t[0],
                  y: t[1],
                  style: {
                    text: g[0],
                    fill: c,
                    opacity: 0.85,
                    fontFamily: "Liberation Sans",
                    fontStyle: "italic",
                    fontSize: 32,
                    align: "center",
                    verticalAlign: "middle",
                  },
                },
              ],
            };
          },
        },
        {
          ...pageBase,
          type: "custom",
          name: "position labels",
          data: positionLabels.map((l) => [l[1], l[2]]),
          renderItem: (p: any, api: any) => {
            const l: any = positionLabels[p.dataIndex];
            const t = api.coord([l[1], l[2]]);
            return {
              type: "text",
              x: t[0],
              y: t[1],
              style: {
                text: l[0],
                fill: "#111111",
                fontFamily: "Liberation Sans",
                fontWeight: 700,
                fontSize: 31,
                align: "center",
                verticalAlign: "middle",
              },
            };
          },
        },
        {
          ...pageBase,
          type: "custom",
          name: "page texts",
          data: pageTexts.map((l) => [l.x, l.y]),
          renderItem: (p: any, api: any) => {
            const l = pageTexts[p.dataIndex];
            const t = api.coord([l.x, l.y]);
            return {
              type: "text",
              x: t[0],
              y: t[1],
              style: {
                text: l.text,
                fill: "#000000",
                fontFamily: l.family,
                fontWeight: l.weight,
                fontStyle: l.style,
                fontSize: l.size,
                align: l.align,
                verticalAlign: l.baseline === "middle" ? "middle" : "bottom",
              },
            };
          },
        },
      ],
    };
    chart.setOption(option);
    return () => chart.dispose();
  }, []);
  return <div ref={ref} style={{ position: "absolute", left: 0, top: 0, width: 2782, height: 3422 }} />;
}

export default App;
